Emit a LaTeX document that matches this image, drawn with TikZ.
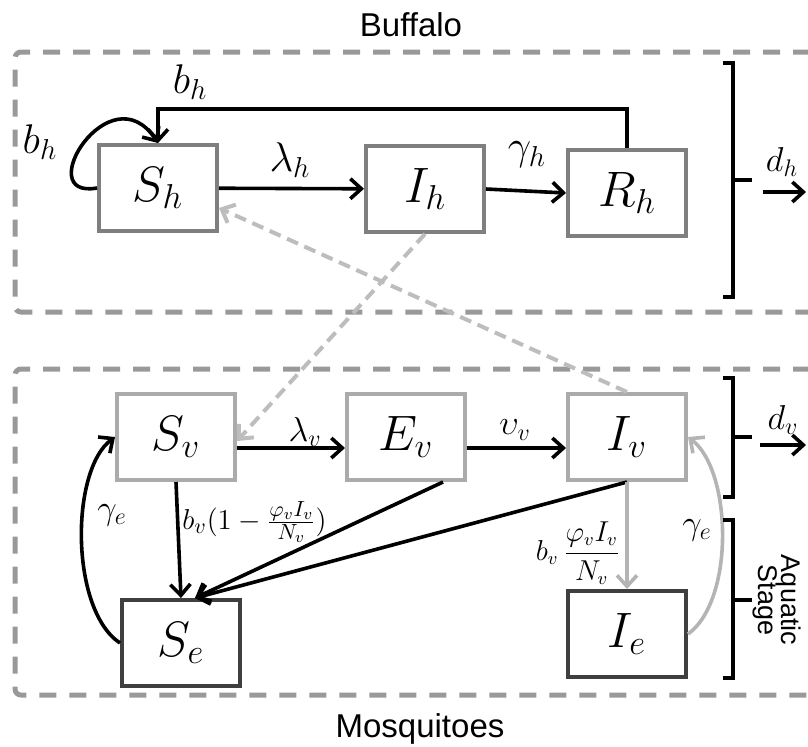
\documentclass[tikz,border=0pt]{standalone}
\usepackage{fontspec}
\setsansfont{Liberation Sans}
\usetikzlibrary{arrows.meta}

\definecolor{hostgray}{HTML}{7F7F7F}
\definecolor{vecgray}{HTML}{ABABAB}
\definecolor{egggray}{HTML}{3F3F3F}
\definecolor{groupgray}{HTML}{999999}
\definecolor{linkgray}{HTML}{BDBDBD}
\definecolor{aquagray}{HTML}{B4B4B4}

\newcommand{\fs}[1]{\fontsize{#1}{#1}\selectfont}

\tikzset{
  comp/.style={draw, line width=2pt, minimum width=59pt, minimum height=43pt,
    inner sep=0pt, fill=white, font=\fs{25}},
  flow/.style={draw=black, line width=1.8pt, -{Straight Barb[length=5.5pt,width=10pt]}},
  link/.style={draw=linkgray, line width=2pt, dash pattern=on 6pt off 3.5pt,
    -{Straight Barb[length=5.5pt,width=10pt]}},
  group/.style={draw=groupgray, line width=2.5pt, dash pattern=on 8.5pt off 6.5pt,
    rounded corners=3pt},
  brack/.style={draw=black, line width=1.6pt},
  lbl/.style={inner sep=0pt}
}

\begin{document}
\begin{tikzpicture}[x=0.5pt,y=-0.5pt]
  \useasboundingbox (0,0) rectangle (808,746);

  % groups
  \draw[group] (840,52) -- (15,52) -- (15,312) -- (840,312);
  \draw[group] (840,369) -- (15,369) -- (15,695) -- (840,695);
  \node[lbl, anchor=base, font=\sffamily\fs{16.5}] (buffalo) at (411,36) {Buffalo};
  \node[lbl, anchor=base, font=\sffamily\fs{16.5}] (mosq) at (420,737) {Mosquitoes};

  \begin{scope}[every node/.style={comp, draw=hostgray}]
    \node (s_h) at (158,188) {$S_h$};
    \node (i_h) at (425,189) {$I_h$};
    \node (r_h) at (627,193) {$R_h$};
  \end{scope}
  \begin{scope}[every node/.style={comp, draw=vecgray}]
    \node (s_v) at (176,437) {$S_v$};
    \node (e_v) at (406,437) {$E_v$};
    \node (i_v) at (627,437) {$I_v$};
  \end{scope}
  \begin{scope}[every node/.style={comp, draw=egggray}]
    \node (s_e) at (181,643) {$S_e$};
    \node (i_e) at (627,634) {$I_e$};
  \end{scope}

  % links between hosts and vectors
  \begin{scope}[every edge/.style={link}]
    \path (i_h.south) edge ([yshift=-2pt]s_v.east);
    \path (i_v.north) edge ([yshift=-10pt]s_h.east);
  \end{scope}

  % buffalo flows
  \coordinate (fb) at (158,109);
  \coordinate (dh_a) at (763,192);
  \coordinate (dh_b) at (806,192);
  \begin{scope}[every edge/.style={flow}]
    \path (s_h) edge (i_h);
    \path (i_h.east) edge (r_h.west);
    \path (dh_a) edge (dh_b);
  \end{scope}
  \draw[flow] (r_h.north) |- (fb) -- (s_h.north);
  \draw[flow] (s_h.west) .. controls (30,200) and (110,70) .. (s_h.north);

  % mosquito flows
  \coordinate (dv_a) at (760,445);
  \coordinate (dv_b) at (806,445);
  \begin{scope}[every edge/.style={flow}]
    \path ([yshift=-5.5pt]s_v.east) edge ([yshift=-5.5pt]e_v.west);
    \path ([yshift=-5.5pt]e_v.east) edge ([yshift=-5.5pt]i_v.west);
    \path (s_v.south) edge (s_e.north);
    \path ([xshift=18.5pt]e_v.south) edge ([xshift=7pt]s_e.north);
    \path (i_v.south) edge ([xshift=7pt]s_e.north);
    \path (dv_a) edge (dv_b);
  \end{scope}
  \draw[flow] (s_e.west) .. controls (70,610) and (70,470) .. (s_v.west);
  \begin{scope}[every edge/.style={flow, draw=aquagray}]
    \path (i_v.south) edge (i_e.north);
  \end{scope}
  \draw[flow, draw=aquagray] (i_e.east) .. controls (735,600) and (732,470) .. (i_v.east);

  % brackets
  \draw[brack] (723,63) -- (733,63) -- (733,297) -- (723,297);
  \draw[brack] (733,180) -- (752,180);
  \draw[brack] (723,378) -- (733,378) -- (733,497) -- (723,497);
  \draw[brack] (733,437) -- (752,437);
  \draw[brack] (723,520) -- (733,520) -- (733,678) -- (723,678);
  \draw[brack] (733,600) -- (752,600);

  % labels
  \node[lbl, font=\fs{22}] (bh_top) at (190,82) {$b_h$};
  \node[lbl, font=\fs{22}] (bh_left) at (40,142) {$b_h$};
  \node[lbl, font=\fs{20}] (lam_h) at (290,160) {$\lambda_h$};
  \node[lbl, font=\fs{21}] (gam_h) at (527,155) {$\gamma_h$};
  \node[lbl, font=\fs{17}] (d_h) at (782,162) {$d_h$};
  \node[lbl, font=\fs{18}] (lam_v) at (305,432) {$\lambda_v$};
  \node[lbl, font=\fs{17}] (ups_v) at (515,430) {$\upsilon_v$};
  \node[lbl, font=\fs{17}] (d_v) at (783,420) {$d_v$};
  \node[lbl, font=\fs{18}] (gam_e1) at (112,515) {$\gamma_e$};
  \node[lbl, font=\fs{18}] (gam_e2) at (697,530) {$\gamma_e$};
  \node[lbl, anchor=west, font=\fs{15.5}] (birth_s) at (182,522)
    {$b_v(1-\frac{\varphi_v I_v}{N_v})$};
  \node[lbl, font=\fs{13.5}] (birth_i) at (578,553)
    {$b_v\,{\displaystyle\frac{\varphi_v I_v}{N_v}}$};
  \node[lbl, rotate=-90, align=center, font=\sffamily\fs{13.5}] (aqua) at (777,600)
    {Aquatic\\[-2pt]Stage};
\end{tikzpicture}
\end{document}
